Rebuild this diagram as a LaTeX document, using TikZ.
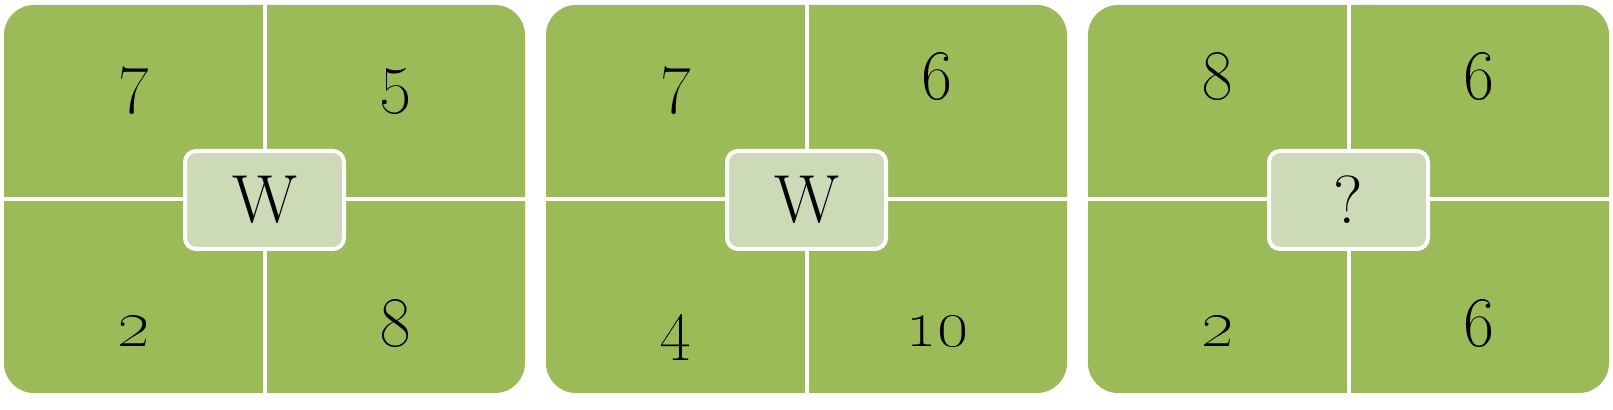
\documentclass[tikz,border=0pt]{standalone}
\usepackage{xcolor}
\usetikzlibrary{positioning}
\definecolor{tilegreen}{RGB}{155,187,89}
\definecolor{boxgreen}{RGB}{205,218,183}
\tikzset{
		tile/.style={fill=tilegreen, rounded corners=15pt},
		gapline/.style={white, line width=2pt},
		centrebox/.style={draw=white, line width=2pt, fill=boxgreen, rounded corners=5.5pt,
			minimum width=79.5pt, minimum height=49pt, inner sep=0pt,
			font=\fontsize{34}{40}\selectfont},
		numlabel/.style={anchor=base, inner sep=0pt, font=\fontsize{36}{40}\selectfont}
	}

\begin{document}
\begin{tikzpicture}[x=0.5pt, y=-0.5pt]
		\useasboundingbox (0,0) rectangle (1613,410);
		% three tiles: centre x / four numbers / middle sign / name
		\foreach \cx/\ta/\tb/\ba/\bb/\mid/\p in {264.5/7/5/2/8/W/1, 806.5/7/6/4/10/W/2, 1348.5/8/6/2/6/?/3} {
			\fill[tile] (\cx-260.5,5) rectangle (\cx+260.5,393);
			\draw[gapline] (\cx,0) -- (\cx,398);
			\draw[gapline] (\cx-262,199) -- (\cx+262,199);
			\node[centrebox] (mid\p) at (\cx,200) {\mid};
			\node[numlabel] (tl\p) at (\cx-131,100) {\oldstylenums{\ta}};
			\node[numlabel] (tr\p) at (\cx+131,100) {\oldstylenums{\tb}};
			\node[numlabel] (bl\p) at (\cx-131,347) {\oldstylenums{\ba}};
			\node[numlabel] (br\p) at (\cx+131,347) {\oldstylenums{\bb}};
		}
	\end{tikzpicture}
\end{document}
